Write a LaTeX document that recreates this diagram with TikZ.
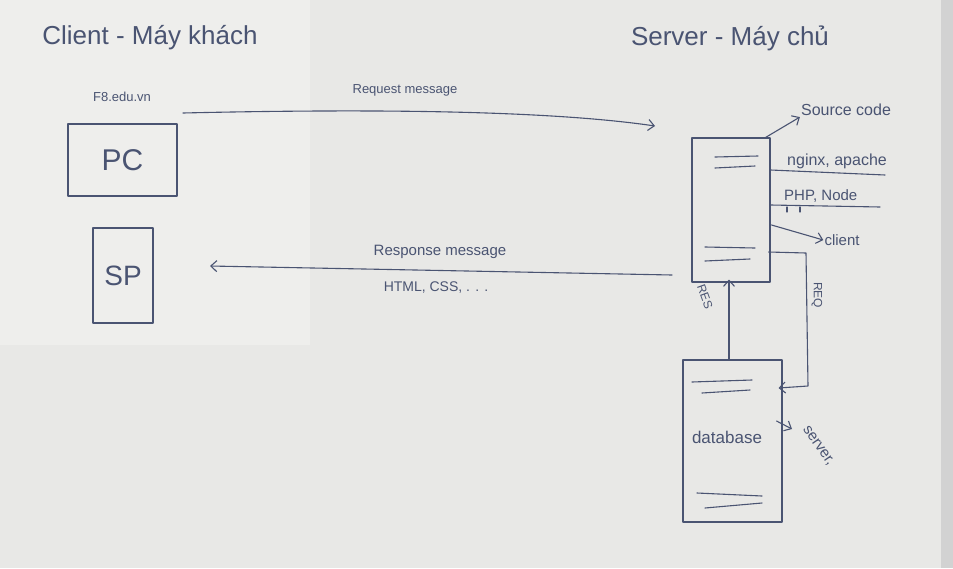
\documentclass[tikz,border=0pt]{standalone}
\usepackage{fontspec}
\setmainfont{Liberation Sans}
\usetikzlibrary{arrows.meta,calc}
\definecolor{board}{HTML}{E8E8E6}
\definecolor{boardlight}{HTML}{EEEEEC}
\definecolor{frame}{HTML}{D2D2D2}
\definecolor{ink}{HTML}{4A5472}
\tikzset{
  ink/.style={draw=ink, line width=1.1pt, line cap=round, line join=round},
  box/.style={ink, rectangle, inner sep=0pt, text=ink},
  lbl/.style={text=ink, inner sep=1pt},
  tip/.style={-{Straight Barb[length=6pt,width=11pt]}}
}
\begin{document}
\begin{tikzpicture}[x=1pt,y=-1pt]
% background
\fill[board] (0,0) rectangle (953,568);
\fill[boardlight] (0,0) rectangle (310,345);
\fill[frame] (941,0) rectangle (953,568);
\useasboundingbox (0,0) rectangle (953,568);

% titles
\node[lbl, font=\fontsize{26}{30}\selectfont] (tclient) at (150,38) {Client - Máy khách};
\node[lbl, font=\fontsize{26}{30}\selectfont] (tserver) at (730,38) {Server - Máy chủ};

% client devices
\node[lbl, font=\fontsize{13}{15}\selectfont] (f8) at (122,97) {F8.edu.vn};
\node[box, minimum width=109pt, minimum height=72pt, font=\fontsize{30}{34}\selectfont] (pc) at (122.5,160) {PC};
\node[box, minimum width=60pt, minimum height=95pt, font=\fontsize{28}{32}\selectfont] (sp) at (123,275.5) {SP};

% server
\node[box, minimum width=78pt, minimum height=144pt] (srv) at (731,210) {};
\draw[ink] (715,157) -- (758,156);
\draw[ink] (715,168) -- (755,166);
\draw[ink] (705,247) -- (755,248);
\draw[ink] (705,261) -- (750,259);

% database
\node[box, minimum width=99pt, minimum height=162pt] (db) at (732.5,441) {};
\node[lbl, font=\fontsize{17}{20}\selectfont] (dbl) at (727,437) {database};
\draw[ink] (692,382) -- (752,380);
\draw[ink] (702,393) -- (750,390);
\draw[ink] (697,493) -- (762,496);
\draw[ink] (705,508) -- (762,503);

% request / response
\coordinate (reqS) at (183,113);
\coordinate (reqE) at (655,126);
\draw[ink, tip] (reqS) .. controls (400,108) and (560,112) .. (reqE);
\node[lbl, font=\fontsize{13}{15}\selectfont] (reql) at (405,90) {Request message};

\coordinate (resS) at (672,275);
\coordinate (resE) at (210,266);
\draw[ink, tip] (resS) -- (resE);
\node[lbl, font=\fontsize{15}{18}\selectfont] (resl) at (440,252) {Response message};
\node[lbl, font=\fontsize{14}{17}\selectfont] (resl2) at (436,288) {HTML, CSS, . . .};

% server annotations
\node[lbl, font=\fontsize{16}{19}\selectfont] (src) at (846,110) {Source code};
\draw[ink, tip] ($(srv.north east)+(-5,0)$) -- (src.south west);
\node[lbl, font=\fontsize{16}{19}\selectfont, anchor=south west] (nginx) at (786,170) {nginx, apache};
\draw[ink] (srv.east |- 0,170) -- (885,175);
\node[lbl, font=\fontsize{15}{18}\selectfont, anchor=south west] (php) at (783,204) {PHP, Node};
\draw[ink] (srv.east |- 0,205) -- (880,207);
\draw[ink] (787,207) -- (787,212);
\draw[ink] (800,207) -- (800,212);
\node[lbl, font=\fontsize{15}{18}\selectfont] (cli) at (842,240) {client};
\draw[ink, tip] ($(srv.east)+(1,15)$) -- (cli.west);

% REQ / RES between server and database
\draw[ink, tip] ($(srv.east)+(-2,42)$) -- (806,253) -- (808,386) -- ($(db.east)+(-4,-53)$);
\node[lbl, font=\fontsize{12}{14}\selectfont, rotate=-90] (reqlbl) at (817,295) {REQ};
\draw[ink, tip] (db.north -| 729,0) -- ($(srv.south)+(-2,-3)$);
\node[lbl, font=\fontsize{12}{14}\selectfont, rotate=-70] (reslbl) at (705,297) {RES};

% server, label near database
\node[lbl, font=\fontsize{15}{18}\selectfont, rotate=-55] (srvl) at (818,446) {server,};
\draw[ink, tip] ($(db.east)+(-6,-20)$) -- (792,429);
\end{tikzpicture}
\end{document}
